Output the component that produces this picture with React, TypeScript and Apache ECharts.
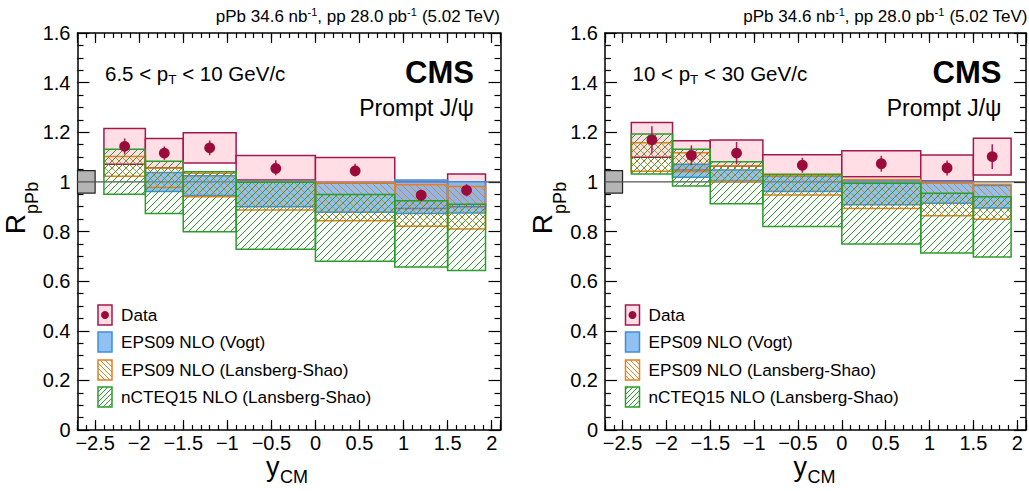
import React, { useEffect, useRef } from 'react';
import * as echarts from 'echarts';

const FONT = '"Liberation Sans", Arial, Helvetica, sans-serif';

// rapidity bins (y_CM)
const binLo = [-2.4, -1.93, -1.5, -0.9, 0, 0.9, 1.5];
const binHi = [-1.93, -1.5, -0.9, 0, 0.9, 1.5, 1.93];

// 6.5 < pT < 10 GeV/c
const rLow = [1.143, 1.116, 1.137, 1.057, 1.048, 0.946, 0.966];
const statLow = [0.032, 0.027, 0.03, 0.03, 0.025, 0.022, 0.025];
const sysLow = [0.072, 0.059, 0.061, 0.049, 0.05, 0.053, 0.066];
const vogtLow = [null, [0.961, 1.038], [0.945, 1.025], [0.9, 1.004], [0.878, 0.994], [0.873, 1.008], [0.875, 1.001]];
const lsLow = [[1.023, 1.102], [0.977, 1.056], [0.94, 1.035], [0.887, 1.001], [0.843, 0.996], [0.821, 0.988], [0.81, 0.981]];
const ncLow = [[0.95, 1.131], [0.873, 1.083], [0.799, 1.041], [0.728, 0.998], [0.68, 0.949], [0.657, 0.924], [0.643, 0.91]];

// 10 < pT < 30 GeV/c
const rHigh = [1.169, 1.107, 1.116, 1.067, 1.073, 1.056, 1.102];
const statHigh = [0.055, 0.04, 0.045, 0.03, 0.032, 0.03, 0.05];
const sysHigh = [0.07, 0.059, 0.053, 0.042, 0.052, 0.052, 0.074];
const vogtHigh = [null, [1.019, 1.071], [1.004, 1.048], [0.961, 1.023], [0.908, 1.008], [0.914, 1.001], [0.895, 0.985]];
const lsHigh = [[1.043, 1.158], [1.041, 1.117], [1.001, 1.064], [0.947, 1.025], [0.893, 1.01], [0.863, 0.994], [0.849, 0.99]];
const ncHigh = [[1.032, 1.193], [0.983, 1.131], [0.912, 1.081], [0.82, 1.031], [0.75, 0.994], [0.713, 0.954], [0.697, 0.94]];

const globalUnc = 0.045;
const globalBoxX = [-2.7, -2.5];
const xMin = -2.7;
const xMax = 2.1;
const yMin = 0;
const yMax = 1.6;

const legendLabels = ['Data', 'EPS09 NLO (Vogt)', 'EPS09 NLO (Lansberg-Shao)', 'nCTEQ15 NLO (Lansberg-Shao)'];

const panels = [
  { kin: '6.5 < p{sub|T} < 10 GeV/c', r: rLow, stat: statLow, sys: sysLow, vogt: vogtLow, ls: lsLow, nc: ncLow },
  { kin: '10 < p{sub|T} < 30 GeV/c', r: rHigh, stat: statHigh, sys: sysHigh, vogt: vogtHigh, ls: lsHigh, nc: ncHigh },
];

const C = {
  point: '#9a0a3a',
  err: '#b01a50',
  boxFill: '#ffdfe5',
  boxStroke: '#a3184c',
  blueFill: 'rgba(85,160,235,0.65)',
  blueStroke: '#3f8fd6',
  orange: '#e3801f',
  green: '#2a9d2a',
  gray: '#b4b4b4',
};

const GRID_LEFT = [77.5, 605];
const PANEL_DX = [0, 527.5];
const GRID_TOP = 33;
const GRID_W = 423;
const GRID_H = 397;

function hatchLines(x0: number, y0: number, x1: number, y1: number, dir: string, sp: number, stroke: string) {
  const segs: any[] = [];
  if (dir === '/') {
    const start = Math.ceil((x0 + y0) / sp) * sp;
    for (let c = start; c <= x1 + y1; c += sp) {
      const xa = Math.max(x0, c - y1);
      const xb = Math.min(x1, c - y0);
      if (xb > xa) segs.push({ type: 'line', silent: true, shape: { x1: xa, y1: c - xa, x2: xb, y2: c - xb }, style: { stroke, lineWidth: 1 } });
    }
  } else {
    const start = Math.ceil((x0 - y1) / sp) * sp;
    for (let c = start; c <= x1 - y0; c += sp) {
      const xa = Math.max(x0, c + y0);
      const xb = Math.min(x1, c + y1);
      if (xb > xa) segs.push({ type: 'line', silent: true, shape: { x1: xa, y1: xa - c, x2: xb, y2: xb - c }, style: { stroke, lineWidth: 1 } });
    }
  }
  return segs;
}

function bandItems(pairs: any[]) {
  const out: number[][] = [];
  pairs.forEach((pr, i) => {
    if (pr) out.push([binLo[i], binHi[i], pr[0], pr[1]]);
  });
  return out;
}

function rectFromApi(api: any) {
  const a = api.coord([api.value(0), api.value(3)]);
  const b = api.coord([api.value(1), api.value(2)]);
  return {
    x0: Math.min(a[0], b[0]),
    x1: Math.max(a[0], b[0]),
    y0: Math.min(a[1], b[1]),
    y1: Math.max(a[1], b[1]),
  };
}

function xFmt(v: number) {
  if (Math.abs(v * 2 - Math.round(v * 2)) > 1e-6) return '';
  if (Math.abs(v) < 1e-9) return '0';
  const s = String(Math.round(Math.abs(v) * 10) / 10);
  return v < 0 ? '\u2212' + s : s;
}

function buildOption() {
  const grid: any[] = [];
  const xAxis: any[] = [];
  const yAxis: any[] = [];
  const series: any[] = [];
  const graphic: any[] = [];
  const lineStyle = { color: '#000', width: 1.2 };
  const axisLine = { show: true, onZero: false, lineStyle: { color: '#000', width: 1.5 } };

  panels.forEach((P, p) => {
    grid.push({ left: GRID_LEFT[p], top: GRID_TOP, width: GRID_W, height: GRID_H, containLabel: false });
    const xBase = { type: 'value', gridIndex: p, min: xMin, max: xMax, splitLine: { show: false } };
    xAxis.push({
      ...xBase, position: 'bottom', splitNumber: 10, axisLine,
      axisTick: { show: true, inside: true, length: 10, lineStyle },
      axisLabel: { show: true, formatter: xFmt, fontSize: 20, lineHeight: 18, color: '#000', margin: 4, fontFamily: FONT },
    });
    xAxis.push({
      ...xBase, position: 'bottom', interval: 0.1, axisLine: { show: false, onZero: false },
      axisTick: { show: true, inside: true, length: 5, lineStyle }, axisLabel: { show: false },
    });
    xAxis.push({
      ...xBase, position: 'top', splitNumber: 10, axisLine,
      axisTick: { show: true, inside: true, length: 10, lineStyle }, axisLabel: { show: false },
    });
    xAxis.push({
      ...xBase, position: 'top', interval: 0.1, axisLine: { show: false, onZero: false },
      axisTick: { show: true, inside: true, length: 5, lineStyle }, axisLabel: { show: false },
    });
    const yBase = {
      type: 'value', gridIndex: p, min: yMin, max: yMax, interval: 0.2, axisLine,
      axisTick: { show: true, inside: true, length: 12, lineStyle },
      minorTick: { show: true, splitNumber: 4, length: 6, lineStyle },
      splitLine: { show: false }, minorSplitLine: { show: false },
    };
    yAxis.push({ ...yBase, position: 'left', axisLabel: { show: true, fontSize: 20, color: '#000', margin: 7, fontFamily: FONT } });
    yAxis.push({ ...yBase, position: 'right', axisLabel: { show: false } });

    const xi = p * 4;
    const yi = p * 2;

    // global uncertainty box + unity line
    series.push({
      type: 'custom', xAxisIndex: xi, yAxisIndex: yi, silent: true,
      data: [[globalBoxX[0], globalBoxX[1], 1 - globalUnc, 1 + globalUnc]],
      renderItem: (params: any, api: any) => {
        const r = rectFromApi(api);
        const l0 = api.coord([xMin, 1]);
        const l1 = api.coord([xMax, 1]);
        return {
          type: 'group',
          children: [
            { type: 'rect', shape: { x: r.x0, y: r.y0, width: r.x1 - r.x0, height: r.y1 - r.y0 }, style: { fill: C.gray, stroke: '#222', lineWidth: 1.2 } },
            { type: 'line', shape: { x1: l0[0], y1: l0[1], x2: l1[0], y2: l1[1] }, style: { stroke: '#555', lineWidth: 1.2 } },
          ],
        };
      },
    });

    // data systematic boxes
    series.push({
      type: 'custom', xAxisIndex: xi, yAxisIndex: yi, silent: true,
      data: P.r.map((v, i) => [binLo[i], binHi[i], v - P.sys[i], v + P.sys[i]]),
      renderItem: (params: any, api: any) => {
        const r = rectFromApi(api);
        return { type: 'rect', shape: { x: r.x0, y: r.y0, width: r.x1 - r.x0, height: r.y1 - r.y0 }, style: { fill: C.boxFill, stroke: C.boxStroke, lineWidth: 1.5 } };
      },
    });

    // EPS09 Vogt (filled)
    series.push({
      type: 'custom', xAxisIndex: xi, yAxisIndex: yi, silent: true,
      data: bandItems(P.vogt),
      renderItem: (params: any, api: any) => {
        const r = rectFromApi(api);
        return { type: 'rect', shape: { x: r.x0, y: r.y0, width: r.x1 - r.x0, height: r.y1 - r.y0 }, style: { fill: C.blueFill, stroke: C.blueStroke, lineWidth: 1.5 } };
      },
    });

    // hatched bands
    const hatchSeries = (pairs: any[], dir: string, color: string) => ({
      type: 'custom', xAxisIndex: xi, yAxisIndex: yi, silent: true,
      data: bandItems(pairs),
      renderItem: (params: any, api: any) => {
        const r = rectFromApi(api);
        const children = hatchLines(r.x0, r.y0, r.x1, r.y1, dir, 7, color);
        children.push({ type: 'rect', shape: { x: r.x0, y: r.y0, width: r.x1 - r.x0, height: r.y1 - r.y0 }, style: { fill: 'none', stroke: color, lineWidth: 1.5 } });
        return { type: 'group', children };
      },
    });
    series.push(hatchSeries(P.ls, '\\', C.orange));
    series.push(hatchSeries(P.nc, '/', C.green));

    // data points with stat errors
    series.push({
      type: 'custom', xAxisIndex: xi, yAxisIndex: yi, silent: true,
      data: P.r.map((v, i) => [(binLo[i] + binHi[i]) / 2, v, P.stat[i]]),
      renderItem: (params: any, api: any) => {
        const xc = api.value(0);
        const v = api.value(1);
        const e = api.value(2);
        const c = api.coord([xc, v]);
        const lo = api.coord([xc, v - e]);
        const hi = api.coord([xc, v + e]);
        return {
          type: 'group',
          children: [
            { type: 'line', shape: { x1: lo[0], y1: lo[1], x2: hi[0], y2: hi[1] }, style: { stroke: C.err, lineWidth: 1.5 } },
            { type: 'circle', shape: { cx: c[0], cy: c[1], r: 5.4 }, style: { fill: C.point } },
          ],
        };
      },
    });

    const dx = PANEL_DX[p];
    // header
    graphic.push({
      type: 'text', x: 500 + dx, y: 16, silent: true,
      style: {
        text: 'pPb 34.6 nb{sup|-1}, pp 28.0 pb{sup|-1} (5.02 TeV)', fontSize: 17, lineHeight: 20, fontFamily: FONT, fill: '#000',
        textAlign: 'right', textVerticalAlign: 'middle',
        rich: { sup: { fontSize: 11, lineHeight: 11, verticalAlign: 'top', fontFamily: FONT, fill: '#000' } },
      },
    });
    graphic.push({
      type: 'text', x: 105 + dx, y: 73, silent: true,
      style: {
        text: P.kin, fontSize: 20.5, lineHeight: 27, fontFamily: FONT, fill: '#000', textAlign: 'left', textVerticalAlign: 'middle',
        rich: { sub: { fontSize: 13.5, lineHeight: 13, verticalAlign: 'bottom', fontFamily: FONT, fill: '#000' } },
      },
    });
    graphic.push({
      type: 'text', x: 474 + dx, y: 72, silent: true,
      style: { text: 'CMS', fontSize: 31, fontWeight: 'bold', fontFamily: FONT, fill: '#000', textAlign: 'right', textVerticalAlign: 'middle' },
    });
    graphic.push({
      type: 'text', x: 474 + dx, y: 108, silent: true,
      style: { text: 'Prompt J/\u03c8', fontSize: 23, fontFamily: FONT, fill: '#000', textAlign: 'right', textVerticalAlign: 'middle' },
    });
    // y axis title
    graphic.push({
      type: 'text', x: 21 + dx, y: 208, rotation: Math.PI / 2, silent: true,
      style: {
        text: '{a|R}{b|pPb}', textAlign: 'center', textVerticalAlign: 'middle', fontFamily: FONT, fill: '#000',
        rich: {
          a: { fontSize: 28, lineHeight: 40, verticalAlign: 'top', fontFamily: FONT, fill: '#000' },
          b: { fontSize: 18, lineHeight: 14, verticalAlign: 'bottom', fontFamily: FONT, fill: '#000' },
        },
      },
    });
    // x axis title
    graphic.push({
      type: 'text', x: 266 + dx, y: 467, silent: true,
      style: { text: 'y', fontSize: 27, lineHeight: 22, fontFamily: FONT, fill: '#000', textAlign: 'left', textVerticalAlign: 'middle' },
    });
    graphic.push({
      type: 'text', x: 280 + dx, y: 477, silent: true,
      style: { text: 'CM', fontSize: 18, lineHeight: 16, fontFamily: FONT, fill: '#000', textAlign: 'left', textVerticalAlign: 'middle' },
    });

    // legend
    const rowY = [315, 342, 370, 397];
    const ix0 = 98 + dx;
    const iw = 14;
    const ih = 20;
    rowY.forEach((ry, k) => {
      const y0 = ry - ih / 2;
      const children: any[] = [];
      if (k === 0) {
        children.push({ type: 'rect', shape: { x: ix0, y: y0, width: iw, height: ih }, style: { fill: C.boxFill, stroke: C.boxStroke, lineWidth: 1.5 } });
        children.push({ type: 'circle', shape: { cx: ix0 + iw / 2, cy: ry, r: 4 }, style: { fill: C.point } });
      } else if (k === 1) {
        children.push({ type: 'rect', shape: { x: ix0, y: y0, width: iw, height: ih }, style: { fill: C.blueFill, stroke: C.blueStroke, lineWidth: 1.5 } });
      } else {
        const col = k === 2 ? C.orange : C.green;
        hatchLines(ix0, y0, ix0 + iw, y0 + ih, k === 2 ? '\\' : '/', 5, col).forEach((s) => children.push(s));
        children.push({ type: 'rect', shape: { x: ix0, y: y0, width: iw, height: ih }, style: { fill: 'none', stroke: col, lineWidth: 1.5 } });
      }
      children.push({
        type: 'text', x: 121 + dx, y: ry,
        style: { text: legendLabels[k], fontSize: 17.2, fontFamily: FONT, fill: '#000', textAlign: 'left', textVerticalAlign: 'middle' },
      });
      graphic.push({ type: 'group', silent: true, children });
    });
  });

  return { animation: false, backgroundColor: '#fff', grid, xAxis, yAxis, series, graphic };
}

export default function App() {
  const ref = useRef<HTMLDivElement>(null);
  useEffect(() => {
    const chart = echarts.init(ref.current as HTMLDivElement, null, { renderer: 'svg' });
    chart.setOption(buildOption() as any);
    return () => chart.dispose();
  }, []);
  return (
    <div
      ref={ref}
      style={{ position: 'fixed', left: 0, top: 0, width: 1029, height: 491, background: '#fff' }}
    />
  );
}
